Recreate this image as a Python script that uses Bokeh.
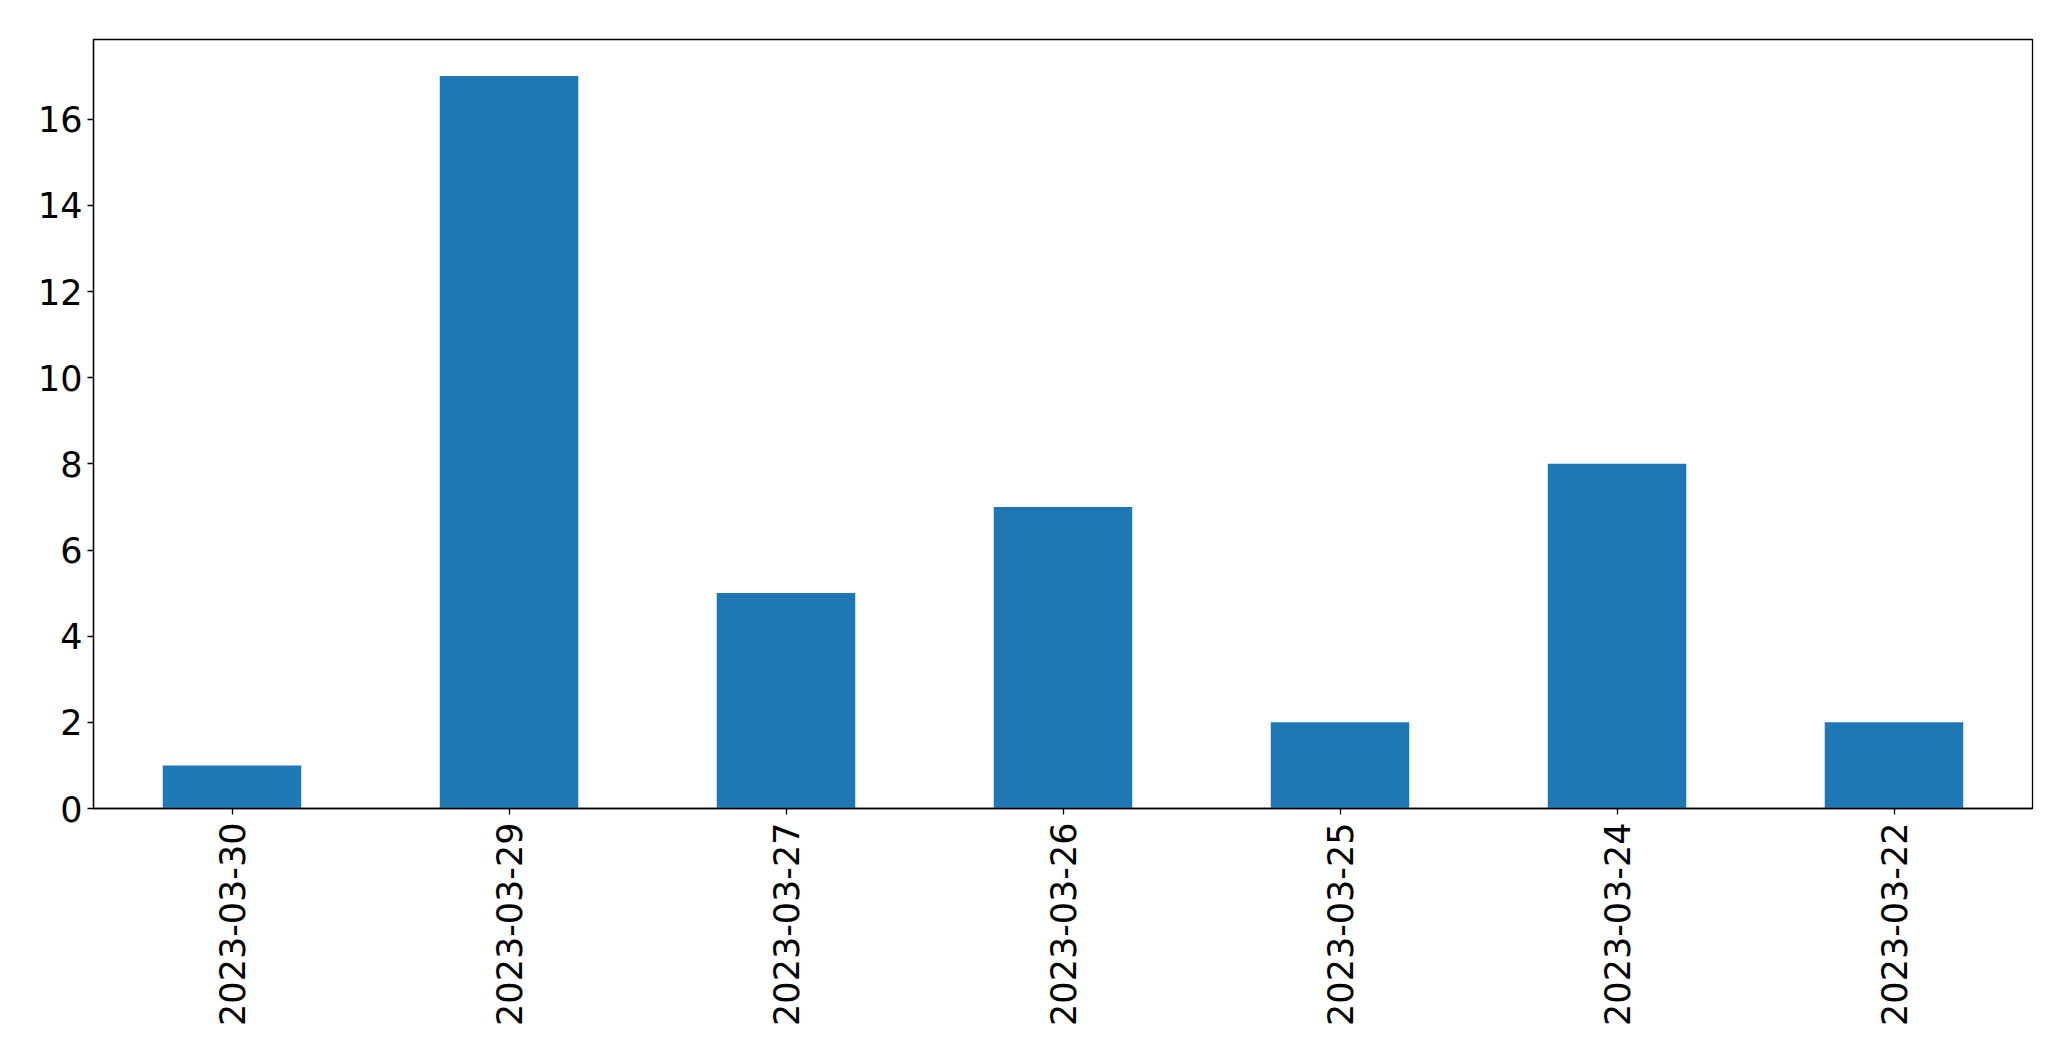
from bokeh.plotting import figure
from bokeh.models import ColumnDataSource, FixedTicker, Range1d
from bokeh.embed import file_html
from bokeh.resources import INLINE
import math

dates = ["2023-03-30", "2023-03-29", "2023-03-27", "2023-03-26", "2023-03-25", "2023-03-24", "2023-03-22"]
counts = [1, 17, 5, 7, 2, 8, 2]
y_ticks = [0, 2, 4, 6, 8, 10, 12, 14, 16]

source = ColumnDataSource(data=dict(dates=dates, counts=counts))

p = figure(x_range=dates, y_range=Range1d(0, 17.85),
           width=2055, height=1045, output_backend="svg", toolbar_location=None,
           min_border_left=93, min_border_top=39, min_border_right=23, min_border_bottom=237)

p.vbar(x="dates", top="counts", width=0.5, source=source, color="#1f77b4", line_color=None)

p.xgrid.visible = False
p.ygrid.visible = False
p.outline_line_color = "black"
p.outline_line_width = 1.3
p.background_fill_color = "white"
p.border_fill_color = "white"

p.yaxis.ticker = FixedTicker(ticks=y_ticks)
p.x_range.range_padding = 0

for ax in [p.xaxis[0], p.yaxis[0]]:
    ax.axis_line_color = "black"
    ax.axis_line_width = 1.3
    ax.major_tick_line_color = "black"
    ax.major_tick_line_width = 1.3
    ax.major_tick_out = 6
    ax.major_tick_in = 0
    ax.minor_tick_line_color = None
    ax.major_label_text_font = "DejaVu Sans"
    ax.major_label_text_font_size = "35px"
    ax.major_label_text_color = "black"

p.yaxis.major_label_standoff = 5
p.xaxis.major_label_standoff = 8
p.xaxis.major_label_orientation = math.pi / 2

open("out.html", "w").write(file_html(p, INLINE))
